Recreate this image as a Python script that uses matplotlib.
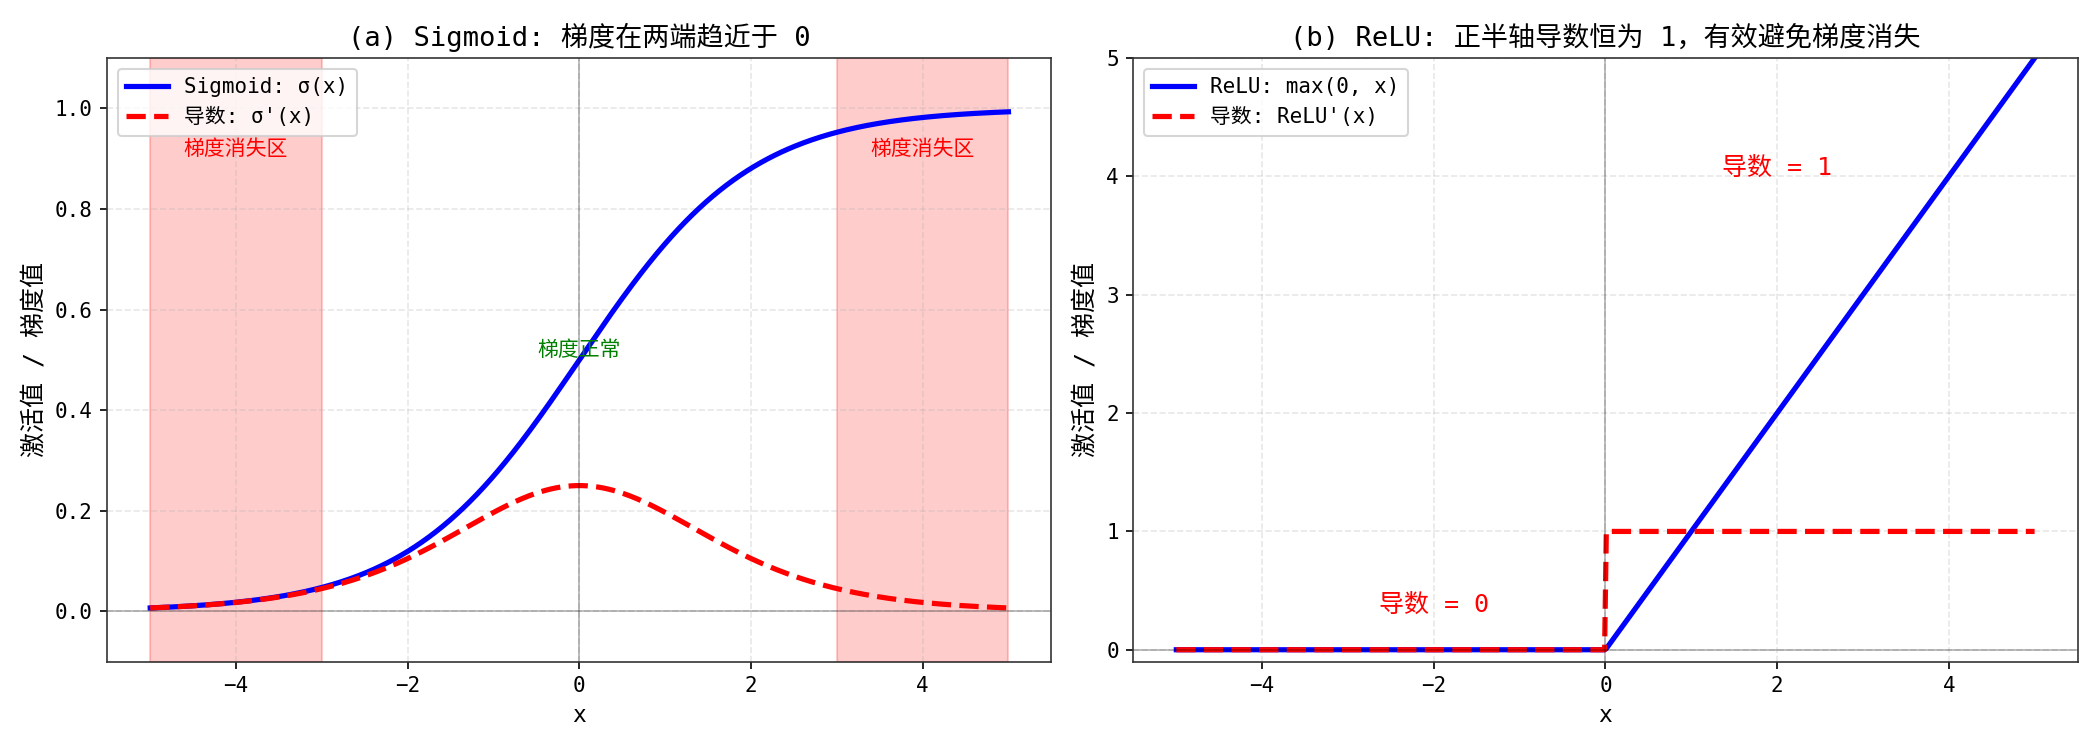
import numpy as np
import matplotlib
matplotlib.use("Agg")
import matplotlib.pyplot as plt

# monospace Latin + CJK fallback, close to the SimHei look
plt.rcParams['font.family'] = ['DejaVu Sans Mono', 'Noto Sans CJK SC']
plt.rcParams['axes.unicode_minus'] = True
plt.rcParams['axes.edgecolor'] = '#333333'

# x range of both curves
x_range = [-5, 5]
n_points = 500

# vanishing-gradient bands on the sigmoid panel
vanish_bands = [(-5, -3), (3, 5)]

titles = ["(a) Sigmoid: 梯度在两端趋近于 0",
          "(b) ReLU: 正半轴导数恒为 1，有效避免梯度消失"]
sig_labels = ["Sigmoid: σ(x)", "导数: σ'(x)"]
relu_labels = ["ReLU: max(0, x)", "导数: ReLU'(x)"]

x = np.linspace(x_range[0], x_range[1], n_points)
sig = 1 / (1 + np.exp(-x))
sig_d = sig * (1 - sig)
relu = np.maximum(0, x)
relu_d = np.where(x > 0, 1.0, 0.0)

fig, (ax1, ax2) = plt.subplots(1, 2, figsize=(14, 5), dpi=150)

## (a) sigmoid
ax1.plot(x, sig, 'b-', lw=2.5, label=sig_labels[0])
ax1.plot(x, sig_d, 'r--', lw=2.5, label=sig_labels[1])
for a, b in vanish_bands:
    ax1.axvspan(a, b, color='red', alpha=0.2)
ax1.text(-4, 0.9, "梯度消失区", color='red', ha='center', va='bottom', fontsize=10)
ax1.text(4, 0.9, "梯度消失区", color='red', ha='center', va='bottom', fontsize=10)
ax1.text(0, 0.5, "梯度正常", color='green', ha='center', va='bottom', fontsize=10)
ax1.axhline(0, color='k', lw=0.8, alpha=0.3)
ax1.axvline(0, color='k', lw=0.8, alpha=0.3)
ax1.set_ylim(-0.1, 1.1)
ax1.set_title(titles[0], fontsize=13)
ax1.set_xlabel("x", fontsize=11)
ax1.set_ylabel("激活值 / 梯度值", fontsize=12)
ax1.grid(True, ls='--', alpha=0.3)
ax1.legend(loc='upper left', fontsize=10)

## (b) relu
ax2.plot(x, relu, 'b-', lw=2.5, label=relu_labels[0])
ax2.plot(x, relu_d, 'r--', lw=2.5, label=relu_labels[1])
ax2.text(-2, 0.28, "导数 = 0", color='red', ha='center', va='bottom', fontsize=12)
ax2.text(2, 3.97, "导数 = 1", color='red', ha='center', va='bottom', fontsize=12)
ax2.axhline(0, color='k', lw=0.8, alpha=0.3)
ax2.axvline(0, color='k', lw=0.8, alpha=0.3)
ax2.set_ylim(-0.1, 5)
ax2.set_title(titles[1], fontsize=13)
ax2.set_xlabel("x", fontsize=11)
ax2.set_ylabel("激活值 / 梯度值", fontsize=12)
ax2.grid(True, ls='--', alpha=0.3)
ax2.legend(loc='upper left', fontsize=10)

plt.tight_layout()
plt.savefig("out.png", dpi=150)
